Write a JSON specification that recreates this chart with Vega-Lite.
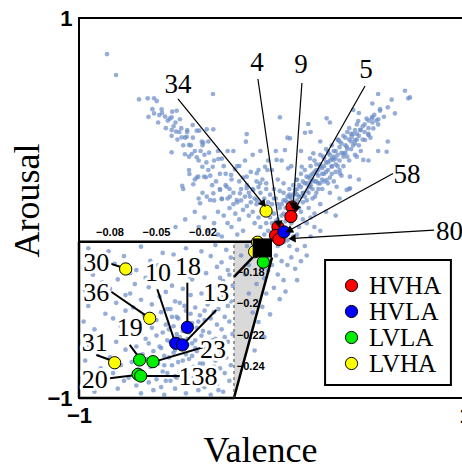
{
"$schema":"https://vega.github.io/schema/vega-lite/v6.json",
"width":386,"height":380,
"autosize":{"type":"none"},
"padding":{"left":79,"top":18,"right":0,"bottom":67},
"config":{
 "view":{"stroke":"black","strokeWidth":2},
 "axis":{"grid":false,"ticks":false,"domain":false,"labelFont":"Liberation Sans, Arial, sans-serif","labelFontWeight":"bold","labelFontSize":22,"labelColor":"black","titleFont":"Liberation Serif, Times New Roman, serif","titleFontWeight":"normal","titleFontSize":36,"titleColor":"black","labelFlush":false,"labelOverlap":false}
},
"datasets":{
 "main":[
{"v":-0.855,"a":0.81},{"v":-0.808,"a":0.7},{"v":-0.689,"a":0.572},{"v":-0.644,"a":0.577},{"v":-0.611,"a":0.577},{"v":-0.597,"a":0.563},{"v":-0.306,"a":0.6},
{"v":-0.572,"a":0.519},{"v":-0.611,"a":0.498},{"v":-0.584,"a":0.489},{"v":-0.554,"a":0.481},{"v":-0.517,"a":0.507},{"v":-0.494,"a":0.512},{"v":-0.477,"a":0.467},{"v":-0.52,"a":0.477},
{"v":-0.52,"a":0.41},{"v":-0.497,"a":0.402},{"v":-0.468,"a":0.372},{"v":-0.442,"a":0.375},{"v":-0.439,"a":0.41},{"v":-0.411,"a":0.437},{"v":-0.39,"a":0.407},{"v":-0.377,"a":0.407},{"v":-0.338,"a":0.414},{"v":-0.304,"a":0.414},
{"v":-0.52,"a":0.293},{"v":-0.451,"a":0.283},{"v":-0.416,"a":0.284},{"v":-0.39,"a":0.267},{"v":-0.43,"a":0.332},{"v":-0.364,"a":0.349},{"v":-0.356,"a":0.344},
{"v":-0.131,"a":0.389},{"v":-0.135,"a":0.349},
{"v":-0.326,"a":0.291},{"v":-0.278,"a":0.258},{"v":-0.361,"a":0.217},{"v":-0.307,"a":0.217},{"v":-0.428,"a":0.179},{"v":-0.382,"a":0.165},{"v":-0.352,"a":0.165},{"v":-0.342,"a":0.162},{"v":-0.465,"a":0.116},{"v":-0.408,"a":0.125},{"v":-0.39,"a":0.16},
{"v":-0.169,"a":0.221},{"v":-0.192,"a":0.204},{"v":-0.212,"a":0.174},{"v":-0.131,"a":0.165},{"v":-0.079,"a":0.183},{"v":-0.036,"a":0.217},{"v":-0.024,"a":0.2},{"v":-0.062,"a":0.13},
{"v":-0.338,"a":0.06},{"v":-0.304,"a":0.077},{"v":-0.269,"a":0.095},{"v":-0.235,"a":0.112},{"v":-0.218,"a":0.06},{"v":-0.183,"a":0.042},{"v":-0.166,"a":0.077},{"v":-0.131,"a":0.104},{"v":-0.114,"a":0.06},{"v":-0.097,"a":0.095},{"v":-0.079,"a":0.042},{"v":-0.26,"a":0.046},{"v":-0.321,"a":0.042},{"v":-0.373,"a":0.025},
{"v":0.689,"a":0.617},{"v":0.715,"a":0.582},{"v":0.706,"a":0.577},
{"v":0.637,"a":0.498},{"v":0.56,"a":0.512},{"v":0.551,"a":0.467},{"v":0.517,"a":0.472},{"v":0.447,"a":0.458},{"v":0.421,"a":0.516},{"v":0.283,"a":0.472},{"v":0.188,"a":0.442},{"v":0.041,"a":0.477},
{"v":0.594,"a":0.296},{"v":0.525,"a":0.419},{"v":0.499,"a":0.384},{"v":0.482,"a":0.358},{"v":0.456,"a":0.411},{"v":0.43,"a":0.358},{"v":0.413,"a":0.375},{"v":0.387,"a":0.323},{"v":0.37,"a":0.288},{"v":0.344,"a":0.358},{"v":0.318,"a":0.253},{"v":0.292,"a":0.288},{"v":0.266,"a":0.27},{"v":0.249,"a":0.218},{"v":0.214,"a":0.288},{"v":0.197,"a":0.261},{"v":0.171,"a":0.396},{"v":0.093,"a":0.366},
{"v":0.067,"a":0.305},{"v":0.084,"a":0.209},{"v":0.024,"a":0.253},{"v":0.154,"a":0.217},{"v":0.179,"a":0.165},{"v":0.128,"a":0.147},{"v":0.231,"a":0.182},{"v":0.283,"a":0.147},{"v":0.335,"a":0.112},{"v":0.387,"a":0.095},{"v":0.404,"a":0.165},{"v":0.439,"a":0.27},{"v":0.473,"a":0.253},{"v":0.352,"a":0.182},{"v":0.309,"a":0.217},{"v":0.249,"a":0.13},{"v":0.197,"a":0.112},{"v":0.223,"a":0.06},{"v":0.162,"a":0.077},{"v":0.119,"a":0.095},{"v":0.093,"a":0.06},{"v":0.404,"a":0.104},
{"v":0.05,"a":0.02},{"v":0.06,"a":0.08},{"v":0.08,"a":0.03},{"v":0.09,"a":0.1},{"v":0.1,"a":0.05},{"v":0.11,"a":0.12},{"v":0.12,"a":0.02},{"v":0.12,"a":0.08},{"v":0.13,"a":0.15},{"v":0.14,"a":0.06},{"v":0.15,"a":0.11},{"v":0.15,"a":0.18},{"v":0.16,"a":0.03},{"v":0.17,"a":0.13},{"v":0.17,"a":0.2},{"v":0.18,"a":0.09},{"v":0.19,"a":0.16},{"v":0.2,"a":0.12},{"v":0.2,"a":0.22},{"v":0.21,"a":0.05},{"v":0.21,"a":0.18},{"v":0.22,"a":0.14},{"v":0.22,"a":0.25},{"v":0.23,"a":0.2},{"v":0.24,"a":0.1},{"v":0.24,"a":0.17},{"v":0.25,"a":0.23},{"v":0.25,"a":0.28},{"v":0.26,"a":0.15},{"v":0.26,"a":0.21},{"v":0.27,"a":0.26},{"v":0.28,"a":0.19},{"v":0.28,"a":0.31},{"v":0.29,"a":0.24},{"v":0.3,"a":0.16},{"v":0.3,"a":0.28},{"v":0.31,"a":0.22},{"v":0.31,"a":0.33},{"v":0.32,"a":0.27},{"v":0.33,"a":0.19},{"v":0.33,"a":0.3},{"v":0.34,"a":0.36},{"v":0.35,"a":0.25},{"v":0.35,"a":0.32},{"v":0.36,"a":0.29},{"v":0.37,"a":0.38},{"v":0.37,"a":0.22},{"v":0.38,"a":0.33},{"v":0.39,"a":0.27},{"v":0.4,"a":0.36},{"v":0.4,"a":0.42},{"v":0.41,"a":0.31},{"v":0.42,"a":0.39},{"v":0.43,"a":0.34},{"v":0.44,"a":0.44},{"v":0.45,"a":0.38},{"v":0.46,"a":0.3},{"v":0.47,"a":0.43},{"v":0.48,"a":0.4},{"v":0.49,"a":0.47},{"v":0.5,"a":0.42},{"v":0.51,"a":0.37},{"v":0.52,"a":0.45},{"v":0.53,"a":0.49},{"v":0.55,"a":0.44},{"v":0.56,"a":0.52},{"v":0.58,"a":0.48},{"v":0.6,"a":0.53},{"v":0.62,"a":0.57},
{"v":0.07,"a":0.0},{"v":0.08,"a":0.06},{"v":0.1,"a":0.0},{"v":0.11,"a":0.07},{"v":0.13,"a":0.1},{"v":0.14,"a":0.0},{"v":0.16,"a":0.08},{"v":0.18,"a":0.04},{"v":0.19,"a":0.11},{"v":0.2,"a":0.17},{"v":0.23,"a":0.08},{"v":0.23,"a":0.14},{"v":0.26,"a":0.1},{"v":0.27,"a":0.18},{"v":0.29,"a":0.13},{"v":0.19,"a":0.0},{"v":0.25,"a":0.02},{"v":0.3,"a":0.08},{"v":0.32,"a":0.14},{"v":0.34,"a":0.22},{"v":0.36,"a":0.17},{"v":0.4,"a":0.25},{"v":0.43,"a":0.28},{"v":0.45,"a":0.33},{"v":0.29,"a":0.3},{"v":0.33,"a":0.26},{"v":0.39,"a":0.4},{"v":0.41,"a":0.35},{"v":0.44,"a":0.39},{"v":0.47,"a":0.36},{"v":0.5,"a":0.46},{"v":0.38,"a":0.29},{"v":0.35,"a":0.35},{"v":0.31,"a":0.26},{"v":0.27,"a":0.22},{"v":0.24,"a":0.2},{"v":0.21,"a":0.15},{"v":0.18,"a":0.13},{"v":0.15,"a":0.06},{"v":0.13,"a":0.04},
{"v":0.3,"a":0.45},{"v":0.2,"a":0.4},{"v":0.25,"a":0.35},{"v":0.15,"a":0.3},{"v":0.1,"a":0.22},{"v":0.05,"a":0.25},{"v":0.08,"a":0.37},{"v":0.45,"a":0.15},{"v":0.5,"a":0.25},{"v":0.55,"a":0.3},{"v":0.6,"a":0.35},{"v":0.35,"a":0.05},{"v":0.4,"a":0.1},{"v":0.28,"a":-0.02},{"v":0.33,"a":-0.04},{"v":0.22,"a":-0.03},{"v":0.45,"a":0.5},{"v":0.52,"a":0.55},{"v":0.55,"a":0.6},
{"v":0.0,"a":0.02},{"v":0.01,"a":-0.03},{"v":0.02,"a":0.05},{"v":0.03,"a":-0.06},{"v":0.04,"a":0.0},{"v":-0.01,"a":-0.05},{"v":-0.02,"a":0.03},{"v":-0.03,"a":-0.08},{"v":-0.04,"a":0.05},{"v":-0.05,"a":-0.02},{"v":-0.06,"a":0.08},{"v":-0.07,"a":-0.05},{"v":-0.08,"a":0.02},{"v":0.05,"a":-0.09},{"v":0.06,"a":-0.03},{"v":0.07,"a":-0.07},{"v":0.08,"a":-0.12},{"v":0.02,"a":-0.1},{"v":0.0,"a":-0.13},{"v":-0.02,"a":-0.12},{"v":0.04,"a":-0.15},{"v":0.1,"a":-0.08},{"v":0.12,"a":-0.04},{"v":0.14,"a":-0.1},{"v":0.16,"a":-0.06},{"v":0.11,"a":-0.15},{"v":0.09,"a":-0.2},{"v":0.13,"a":-0.22},{"v":0.06,"a":-0.18},{"v":0.03,"a":-0.2},{"v":0.01,"a":-0.17},{"v":-0.09,"a":-0.08},{"v":-0.11,"a":0.03},{"v":-0.12,"a":-0.04},{"v":-0.14,"a":0.06},{"v":-0.15,"a":-0.01},{"v":-0.1,"a":0.1},{"v":-0.13,"a":0.12},{"v":-0.16,"a":0.1},{"v":-0.18,"a":0.03},{"v":-0.2,"a":0.08},{"v":-0.17,"a":-0.06},{"v":-0.19,"a":-0.03},{"v":-0.22,"a":0.0},{"v":-0.24,"a":0.12},{"v":-0.21,"a":0.15},{"v":-0.26,"a":0.05},{"v":-0.27,"a":0.18},{"v":-0.3,"a":0.04},{"v":-0.31,"a":0.12},{"v":-0.33,"a":0.2},{"v":-0.25,"a":-0.04},{"v":-0.23,"a":-0.08},{"v":-0.28,"a":-0.02},{"v":-0.08,"a":0.14},{"v":-0.05,"a":0.15},{"v":-0.03,"a":0.1},{"v":0.01,"a":0.1},{"v":0.03,"a":0.15},{"v":0.0,"a":0.2},{"v":-0.02,"a":0.25},{"v":-0.07,"a":0.2},{"v":-0.11,"a":0.19},{"v":-0.15,"a":0.16},{"v":-0.18,"a":0.22},{"v":-0.14,"a":0.25},{"v":-0.1,"a":0.28},{"v":-0.06,"a":0.3},{"v":0.02,"a":0.3},{"v":-0.2,"a":0.3},
{"v":-0.35,"a":0.28},{"v":-0.36,"a":0.33},{"v":-0.38,"a":0.25},{"v":-0.4,"a":0.3},{"v":-0.41,"a":0.37},{"v":-0.43,"a":0.27},{"v":-0.44,"a":0.4},{"v":-0.46,"a":0.33},{"v":-0.47,"a":0.42},{"v":-0.49,"a":0.36},{"v":-0.5,"a":0.45},{"v":-0.52,"a":0.38},{"v":-0.53,"a":0.47},{"v":-0.55,"a":0.42},{"v":-0.57,"a":0.5},{"v":-0.59,"a":0.45},{"v":-0.62,"a":0.52},{"v":-0.64,"a":0.48},{"v":-0.3,"a":0.25},{"v":-0.32,"a":0.17},{"v":-0.27,"a":0.1},{"v":-0.25,"a":0.22},{"v":-0.23,"a":0.3},{"v":-0.36,"a":0.08},{"v":-0.4,"a":0.15},{"v":-0.43,"a":0.2},{"v":-0.46,"a":0.1},{"v":-0.38,"a":0.05},
{"v":0.02,"a":-0.25},{"v":0.05,"a":-0.28},{"v":0.08,"a":-0.3},{"v":0.1,"a":-0.26},{"v":0.12,"a":-0.32},{"v":0.03,"a":-0.35},{"v":0.06,"a":-0.38},{"v":0.0,"a":-0.3},{"v":-0.02,"a":-0.33},{"v":-0.04,"a":-0.37},{"v":-0.06,"a":-0.3},{"v":-0.08,"a":-0.4},{"v":-0.03,"a":-0.45},{"v":0.01,"a":-0.42},{"v":0.04,"a":-0.48},{"v":-0.05,"a":-0.52},{"v":-0.01,"a":-0.56},{"v":-0.07,"a":-0.6},{"v":-0.04,"a":-0.68},{"v":-0.09,"a":-0.75},{"v":0.07,"a":-0.44},{"v":0.13,"a":-0.38},{"v":0.15,"a":-0.28},{"v":0.17,"a":-0.2},{"v":0.2,"a":-0.15},{"v":0.22,"a":-0.1},{"v":0.25,"a":-0.12},{"v":0.18,"a":-0.25},{"v":-0.12,"a":-0.45},{"v":-0.1,"a":-0.55},{"v":-0.14,"a":-0.35},{"v":-0.16,"a":-0.25},{"v":-0.12,"a":-0.3},{"v":-0.09,"a":-0.22},{"v":-0.13,"a":-0.2},{"v":-0.18,"a":-0.14},{"v":-0.15,"a":-0.12},{"v":-0.21,"a":-0.1},{"v":-0.26,"a":-0.15},{"v":-0.3,"a":-0.08},{"v":-0.35,"a":-0.05},{"v":-0.33,"a":-0.12},{"v":-0.4,"a":-0.02},{"v":-0.38,"a":-0.1},{"v":-0.45,"a":-0.06},{"v":-0.5,"a":-0.1},{"v":-0.28,"a":-0.14},
{"v":0.06,"a":0.04},{"v":0.09,"a":0.07},{"v":0.11,"a":0.03},{"v":0.13,"a":0.07},{"v":0.14,"a":0.12},{"v":0.16,"a":0.14},{"v":0.17,"a":0.06},{"v":0.19,"a":0.08},{"v":0.2,"a":0.14},{"v":0.21,"a":0.1},{"v":0.22,"a":0.19},{"v":0.23,"a":0.23},{"v":0.24,"a":0.13},{"v":0.26,"a":0.18},{"v":0.27,"a":0.14},{"v":0.28,"a":0.24},{"v":0.29,"a":0.2},{"v":0.3,"a":0.25},{"v":0.31,"a":0.18},{"v":0.32,"a":0.3},{"v":0.33,"a":0.23},{"v":0.34,"a":0.28},{"v":0.35,"a":0.2},{"v":0.36,"a":0.34},{"v":0.37,"a":0.27},{"v":0.38,"a":0.37},{"v":0.39,"a":0.31},{"v":0.41,"a":0.39},{"v":0.42,"a":0.33},{"v":0.43,"a":0.41},{"v":0.44,"a":0.36},{"v":0.46,"a":0.41},{"v":0.48,"a":0.44},{"v":0.5,"a":0.39},{"v":0.52,"a":0.48},{"v":0.54,"a":0.46},
{"v":0.01,"a":0.05},{"v":0.03,"a":0.02},{"v":0.05,"a":-0.04},{"v":0.07,"a":0.04},{"v":0.09,"a":-0.02},{"v":0.02,"a":-0.07},{"v":-0.01,"a":0.07},{"v":-0.04,"a":-0.01},{"v":-0.06,"a":0.03},{"v":-0.09,"a":0.05},{"v":-0.12,"a":0.08},{"v":-0.07,"a":0.11},{"v":-0.03,"a":0.13},{"v":0.04,"a":0.09},{"v":0.06,"a":0.13},{"v":-0.1,"a":-0.02},{"v":-0.13,"a":0.01},{"v":-0.16,"a":0.04},{"v":-0.2,"a":0.02},{"v":-0.23,"a":0.05},{"v":-0.06,"a":-0.1},{"v":0.0,"a":-0.08},{"v":0.05,"a":-0.13},{"v":0.08,"a":-0.17},{"v":-0.04,"a":-0.14},{"v":0.1,"a":-0.12},{"v":0.13,"a":-0.14},{"v":0.15,"a":-0.02},{"v":0.18,"a":-0.08},{"v":0.2,"a":-0.05},
{"v":-0.28,"a":0.3},{"v":-0.33,"a":0.35},{"v":-0.37,"a":0.3},{"v":-0.42,"a":0.33},{"v":-0.45,"a":0.37},{"v":-0.48,"a":0.4},{"v":-0.51,"a":0.43},{"v":-0.54,"a":0.46},{"v":-0.26,"a":0.26},{"v":-0.24,"a":0.18},{"v":-0.29,"a":0.14},{"v":-0.34,"a":0.24},{"v":-0.22,"a":0.1},{"v":-0.17,"a":0.14}
 ],
 "inset":[
{"v":-0.094,"a":-0.164},{"v":-0.081,"a":-0.166},{"v":-0.06,"a":-0.163},{"v":-0.046,"a":-0.167},{"v":-0.031,"a":-0.164},{"v":-0.021,"a":-0.166},{"v":-0.012,"a":-0.162},{"v":-0.005,"a":-0.165},
{"v":-0.089,"a":-0.171},{"v":-0.071,"a":-0.169},{"v":-0.054,"a":-0.172},{"v":-0.039,"a":-0.168},{"v":-0.026,"a":-0.171},{"v":-0.015,"a":-0.169},{"v":-0.008,"a":-0.173},{"v":-0.002,"a":-0.17},
{"v":-0.097,"a":-0.176},{"v":-0.077,"a":-0.174},{"v":-0.063,"a":-0.178},{"v":-0.049,"a":-0.175},{"v":-0.034,"a":-0.177},{"v":-0.022,"a":-0.174},{"v":-0.011,"a":-0.176},{"v":-0.004,"a":-0.178},
{"v":-0.091,"a":-0.181},{"v":-0.067,"a":-0.18},{"v":-0.057,"a":-0.183},{"v":-0.042,"a":-0.179},{"v":-0.029,"a":-0.182},{"v":-0.018,"a":-0.18},{"v":-0.009,"a":-0.183},{"v":-0.003,"a":-0.181},
{"v":-0.085,"a":-0.186},{"v":-0.075,"a":-0.184},{"v":-0.064,"a":-0.187},{"v":-0.051,"a":-0.185},{"v":-0.04,"a":-0.188},{"v":-0.027,"a":-0.184},{"v":-0.016,"a":-0.187},{"v":-0.007,"a":-0.185},{"v":-0.001,"a":-0.188},
{"v":-0.096,"a":-0.191},{"v":-0.08,"a":-0.19},{"v":-0.067,"a":-0.193},{"v":-0.055,"a":-0.189},{"v":-0.044,"a":-0.192},{"v":-0.033,"a":-0.19},{"v":-0.021,"a":-0.193},{"v":-0.011,"a":-0.189},{"v":-0.004,"a":-0.192},
{"v":-0.088,"a":-0.196},{"v":-0.07,"a":-0.194},{"v":-0.06,"a":-0.197},{"v":-0.048,"a":-0.195},{"v":-0.038,"a":-0.198},{"v":-0.028,"a":-0.194},{"v":-0.016,"a":-0.197},{"v":-0.008,"a":-0.195},{"v":-0.002,"a":-0.198},
{"v":-0.094,"a":-0.201},{"v":-0.076,"a":-0.199},{"v":-0.065,"a":-0.202},{"v":-0.053,"a":-0.2},{"v":-0.043,"a":-0.203},{"v":-0.035,"a":-0.199},{"v":-0.025,"a":-0.202},{"v":-0.017,"a":-0.2},{"v":-0.01,"a":-0.203},{"v":-0.004,"a":-0.201},
{"v":-0.083,"a":-0.206},{"v":-0.07,"a":-0.204},{"v":-0.058,"a":-0.207},{"v":-0.047,"a":-0.205},{"v":-0.04,"a":-0.208},{"v":-0.031,"a":-0.204},{"v":-0.022,"a":-0.207},{"v":-0.013,"a":-0.205},{"v":-0.006,"a":-0.208},
{"v":-0.097,"a":-0.211},{"v":-0.078,"a":-0.209},{"v":-0.064,"a":-0.212},{"v":-0.05,"a":-0.21},{"v":-0.044,"a":-0.213},{"v":-0.036,"a":-0.209},{"v":-0.027,"a":-0.212},{"v":-0.019,"a":-0.21},{"v":-0.011,"a":-0.213},{"v":-0.003,"a":-0.211},
{"v":-0.09,"a":-0.216},{"v":-0.073,"a":-0.214},{"v":-0.061,"a":-0.217},{"v":-0.053,"a":-0.215},{"v":-0.046,"a":-0.218},{"v":-0.039,"a":-0.214},{"v":-0.033,"a":-0.217},{"v":-0.024,"a":-0.215},{"v":-0.016,"a":-0.218},{"v":-0.008,"a":-0.216},
{"v":-0.085,"a":-0.221},{"v":-0.068,"a":-0.219},{"v":-0.057,"a":-0.222},{"v":-0.05,"a":-0.22},{"v":-0.043,"a":-0.223},{"v":-0.037,"a":-0.219},{"v":-0.03,"a":-0.222},{"v":-0.021,"a":-0.22},{"v":-0.014,"a":-0.223},{"v":-0.006,"a":-0.221},{"v":-0.001,"a":-0.219},
{"v":-0.094,"a":-0.226},{"v":-0.076,"a":-0.224},{"v":-0.063,"a":-0.227},{"v":-0.055,"a":-0.225},{"v":-0.047,"a":-0.228},{"v":-0.041,"a":-0.224},{"v":-0.034,"a":-0.227},{"v":-0.027,"a":-0.225},{"v":-0.018,"a":-0.228},{"v":-0.01,"a":-0.226},{"v":-0.004,"a":-0.224},
{"v":-0.088,"a":-0.231},{"v":-0.07,"a":-0.229},{"v":-0.059,"a":-0.232},{"v":-0.052,"a":-0.23},{"v":-0.045,"a":-0.233},{"v":-0.038,"a":-0.229},{"v":-0.031,"a":-0.232},{"v":-0.024,"a":-0.23},{"v":-0.015,"a":-0.233},{"v":-0.008,"a":-0.231},
{"v":-0.096,"a":-0.236},{"v":-0.08,"a":-0.234},{"v":-0.066,"a":-0.237},{"v":-0.056,"a":-0.235},{"v":-0.049,"a":-0.238},{"v":-0.042,"a":-0.234},{"v":-0.036,"a":-0.237},{"v":-0.029,"a":-0.235},{"v":-0.02,"a":-0.238},{"v":-0.012,"a":-0.236},{"v":-0.005,"a":-0.234},
{"v":-0.086,"a":-0.241},{"v":-0.073,"a":-0.239},{"v":-0.062,"a":-0.242},{"v":-0.054,"a":-0.24},{"v":-0.046,"a":-0.243},{"v":-0.04,"a":-0.239},{"v":-0.033,"a":-0.242},{"v":-0.026,"a":-0.24},{"v":-0.017,"a":-0.243},{"v":-0.009,"a":-0.241},{"v":-0.002,"a":-0.239},
{"v":-0.092,"a":-0.246},{"v":-0.078,"a":-0.244},{"v":-0.068,"a":-0.247},{"v":-0.058,"a":-0.245},{"v":-0.05,"a":-0.248},{"v":-0.043,"a":-0.244},{"v":-0.037,"a":-0.247},{"v":-0.03,"a":-0.245},{"v":-0.022,"a":-0.248},{"v":-0.014,"a":-0.246},{"v":-0.006,"a":-0.244},
{"v":-0.083,"a":-0.251},{"v":-0.071,"a":-0.249},{"v":-0.063,"a":-0.252},{"v":-0.055,"a":-0.25},{"v":-0.047,"a":-0.253},{"v":-0.041,"a":-0.249},{"v":-0.034,"a":-0.252},{"v":-0.027,"a":-0.25},{"v":-0.019,"a":-0.253},{"v":-0.011,"a":-0.251},{"v":-0.003,"a":-0.249},
{"v":-0.09,"a":-0.256},{"v":-0.075,"a":-0.254},{"v":-0.06,"a":-0.257},{"v":-0.052,"a":-0.255},{"v":-0.045,"a":-0.258},{"v":-0.038,"a":-0.254},{"v":-0.031,"a":-0.257},{"v":-0.023,"a":-0.255},{"v":-0.015,"a":-0.258},{"v":-0.007,"a":-0.256},
{"v":-0.041,"a":-0.203},{"v":-0.037,"a":-0.208},{"v":-0.032,"a":-0.201},{"v":-0.028,"a":-0.206},{"v":-0.023,"a":-0.211},{"v":-0.019,"a":-0.204},{"v":-0.015,"a":-0.209},{"v":-0.042,"a":-0.216},{"v":-0.035,"a":-0.221},{"v":-0.029,"a":-0.218},{"v":-0.025,"a":-0.223},{"v":-0.02,"a":-0.217},{"v":-0.012,"a":-0.222},{"v":-0.039,"a":-0.231},{"v":-0.033,"a":-0.236},{"v":-0.027,"a":-0.233},{"v":-0.022,"a":-0.238},{"v":-0.017,"a":-0.231},{"v":-0.013,"a":-0.24},{"v":-0.044,"a":-0.249},{"v":-0.038,"a":-0.246},{"v":-0.032,"a":-0.251},{"v":-0.026,"a":-0.247},{"v":-0.021,"a":-0.252},{"v":-0.016,"a":-0.245},{"v":-0.01,"a":-0.255},{"v":-0.048,"a":-0.227},{"v":-0.045,"a":-0.239},{"v":-0.025,"a":-0.228},{"v":-0.035,"a":-0.243},{"v":-0.03,"a":-0.226}
 ],
 "mainPts":[
{"v":-0.031,"a":-0.016,"cat":"LVHA"},{"v":-0.075,"a":-0.18,"cat":"LVHA"},{"v":-0.09,"a":-0.23,"cat":"LVHA"},{"v":-0.045,"a":-0.285,"cat":"LVLA"},
{"v":0.104,"a":0.005,"cat":"HVHA"},{"v":0.098,"a":-0.045,"cat":"HVHA"},{"v":0.031,"a":-0.1,"cat":"HVHA"},{"v":0.018,"a":-0.145,"cat":"HVHA"},{"v":0.036,"a":-0.165,"cat":"HVHA"},{"v":0.062,"a":-0.126,"cat":"HVLA"}
 ],
 "mainLab":[
{"id":"34","tv":-0.487,"ta":0.647,"lv":-0.487,"la":0.574,"v":-0.048,"a":0.025},
{"id":"4","tv":-0.078,"ta":0.763,"lv":-0.073,"la":0.679,"v":0.035,"a":-0.08},
{"id":"9","tv":0.15,"ta":0.753,"lv":0.155,"la":0.658,"v":0.11,"a":0.016},
{"id":"5","tv":0.487,"ta":0.726,"lv":0.482,"la":0.642,"v":0.125,"a":0.003},
{"id":"58","tv":0.699,"ta":0.174,"lv":0.627,"la":0.182,"v":0.093,"a":-0.116},
{"id":"80","tv":0.92,"ta":-0.126,"lv":0.84,"la":-0.116,"v":0.11,"a":-0.16}
 ],
 "insetPts":[
{"v":-0.0699,"a":-0.1773,"cat":"LVHA"},{"v":-0.0544,"a":-0.2089,"cat":"LVHA"},{"v":-0.0301,"a":-0.2147,"cat":"HVLA"},{"v":-0.0376,"a":-0.2249,"cat":"HVLA"},{"v":-0.0333,"a":-0.226,"cat":"HVLA"},{"v":-0.0609,"a":-0.2356,"cat":"LVLA"},{"v":-0.0523,"a":-0.2367,"cat":"LVLA"},{"v":-0.077,"a":-0.2374,"cat":"LVHA"},{"v":-0.0619,"a":-0.2448,"cat":"LVLA"},{"v":-0.0602,"a":-0.2459,"cat":"LVLA"}
 ],
 "insetLab":[
{"id":"30","tv":-0.0888,"ta":-0.1733,"lv":-0.0802,"la":-0.1737,"v":-0.0716,"a":-0.1765},
{"id":"36","tv":-0.0888,"ta":-0.1929,"lv":-0.0792,"la":-0.1919,"v":-0.0566,"a":-0.2074},
{"id":"10","tv":-0.049,"ta":-0.1801,"lv":-0.0495,"la":-0.1903,"v":-0.0383,"a":-0.2235},
{"id":"18","tv":-0.0297,"ta":-0.1758,"lv":-0.0301,"la":-0.1861,"v":-0.0301,"a":-0.2121},
{"id":"13","tv":-0.0114,"ta":-0.1929,"lv":-0.0114,"la":-0.2036,"v":-0.0318,"a":-0.2245},
{"id":"19","tv":-0.0673,"ta":-0.2153,"lv":-0.0673,"la":-0.226,"v":-0.0613,"a":-0.2339},
{"id":"31","tv":-0.0899,"ta":-0.2249,"lv":-0.0888,"la":-0.2324,"v":-0.0785,"a":-0.2361},
{"id":"23","tv":-0.0135,"ta":-0.2292,"lv":-0.02,"la":-0.2275,"v":-0.0512,"a":-0.2367},
{"id":"20","tv":-0.0899,"ta":-0.2485,"lv":-0.0802,"la":-0.2474,"v":-0.063,"a":-0.2453},
{"id":"138","tv":-0.0232,"ta":-0.2463,"lv":-0.035,"la":-0.2459,"v":-0.0587,"a":-0.2459}
 ]
},
"resolve":{"scale":{"x":"independent","y":"independent"}},
"layer":[
{"layer":[
 {"mark":{"type":"rule","color":"#8c8c8c","strokeDash":[4,3],"strokeWidth":1},
  "encoding":{"x":{"datum":0,"type":"quantitative","scale":{"domain":[-1,1],"nice":false,"zero":false}}}},
 {"mark":{"type":"rule","color":"#8c8c8c","strokeDash":[4,3],"strokeWidth":1},
  "encoding":{"y":{"datum":0,"type":"quantitative","scale":{"domain":[-1,1],"nice":false,"zero":false}}}},
 {"data":{"values":[{"v":-0.197,"a":-1,"a2":-0.178},{"v":0,"a":-0.26,"a2":-0.16}]},
  "mark":{"type":"area","color":"#d9d9d9","opacity":1},
  "encoding":{"x":{"field":"v","type":"quantitative","scale":{"domain":[-1,1],"nice":false,"zero":false}},"y":{"field":"a","type":"quantitative","scale":{"domain":[-1,1],"nice":false,"zero":false}},"y2":{"field":"a2"}}},
 {"data":{"name":"main"},
  "mark":{"type":"circle","size":22,"color":"#6a8bc6","opacity":0.7},
  "encoding":{
   "x":{"field":"v","type":"quantitative","scale":{"domain":[-1,1],"nice":false,"zero":false},"axis":{"values":[-1,0,1],"format":"d","title":"Valence","labelPadding":7,"titleX":181,"titleY":63,"titleBaseline":"alphabetic"}},
   "y":{"field":"a","type":"quantitative","scale":{"domain":[-1,1],"nice":false,"zero":false},"axis":{"values":[-1,0,1],"format":"d","title":"Arousal","labelPadding":7,"titleX":-41,"titleY":182,"titleBaseline":"alphabetic"}}}},
 {"data":{"values":[{"v":-1,"v2":-0.197,"a":-1,"a2":-0.178}]},
  "mark":{"type":"rect","fill":"white"},
  "encoding":{"x":{"field":"v","type":"quantitative","scale":{"domain":[-1,1],"nice":false,"zero":false}},"x2":{"field":"v2"},"y":{"field":"a","type":"quantitative","scale":{"domain":[-1,1],"nice":false,"zero":false}},"y2":{"field":"a2"}}},
 {"data":{"values":[{"v":0.275,"v2":0.927,"a":-0.932,"a2":-0.274}]},
  "mark":{"type":"rect","fill":"white","stroke":"black","strokeWidth":2},
  "encoding":{"x":{"field":"v","type":"quantitative","scale":{"domain":[-1,1],"nice":false,"zero":false}},"x2":{"field":"v2"},"y":{"field":"a","type":"quantitative","scale":{"domain":[-1,1],"nice":false,"zero":false}},"y2":{"field":"a2"}}},
 {"data":{"values":[{"v":-1,"a":-0.178,"v2":-0.1,"a2":-0.178},{"v":-1,"a":-1,"v2":-1,"a2":-0.178},{"v":-1,"a":-1,"v2":-0.197,"a2":-1},{"v":-0.1,"a":-0.26,"v2":-0.197,"a2":-0.363},{"v":0,"a":-0.26,"v2":-0.197,"a2":-1}]},
  "mark":{"type":"rule","color":"black","strokeWidth":2.5},
  "encoding":{"x":{"field":"v","type":"quantitative","scale":{"domain":[-1,1],"nice":false,"zero":false}},"x2":{"field":"v2"},"y":{"field":"a","type":"quantitative","scale":{"domain":[-1,1],"nice":false,"zero":false}},"y2":{"field":"a2"}}},
 {"data":{"values":[{"v":-0.197,"a":-1,"v2":-0.197,"a2":-0.178}]},
  "mark":{"type":"rule","color":"#444","strokeWidth":1,"strokeDash":[3,3]},
  "encoding":{"x":{"field":"v","type":"quantitative","scale":{"domain":[-1,1],"nice":false,"zero":false}},"x2":{"field":"v2"},"y":{"field":"a","type":"quantitative","scale":{"domain":[-1,1],"nice":false,"zero":false}},"y2":{"field":"a2"}}},
 {"data":{"name":"mainPts"},
  "mark":{"type":"circle","size":150,"opacity":1,"stroke":"black","strokeWidth":1},
  "encoding":{"x":{"field":"v","type":"quantitative","scale":{"domain":[-1,1],"nice":false,"zero":false}},"y":{"field":"a","type":"quantitative","scale":{"domain":[-1,1],"nice":false,"zero":false}},
   "color":{"field":"cat","type":"nominal","scale":{"domain":["HVHA","HVLA","LVLA","LVHA"],"range":["#ff0000","#0000ff","#00ee00","#ffff00"]},
    "legend":{"orient":"none","legendX":260,"legendY":255,"title":null,"padding":0,"labelFont":"Liberation Serif, Times New Roman, serif","labelFontSize":25,"labelColor":"black","labelOffset":5,"symbolType":"circle","symbolSize":150,"symbolStrokeColor":"black","symbolStrokeWidth":1,"symbolOpacity":1,"rowPadding":0}}}},
 {"data":{"values":[{"v":-0.1,"v2":0,"a":-0.26,"a2":-0.16}]},
  "mark":{"type":"rect","fill":"black"},
  "encoding":{"x":{"field":"v","type":"quantitative","scale":{"domain":[-1,1],"nice":false,"zero":false}},"x2":{"field":"v2"},"y":{"field":"a","type":"quantitative","scale":{"domain":[-1,1],"nice":false,"zero":false}},"y2":{"field":"a2"}}},
 {"data":{"name":"mainLab"},
  "mark":{"type":"rule","color":"black","strokeWidth":1.2},
  "encoding":{"x":{"field":"lv","type":"quantitative","scale":{"domain":[-1,1],"nice":false,"zero":false}},"x2":{"field":"v"},"y":{"field":"la","type":"quantitative","scale":{"domain":[-1,1],"nice":false,"zero":false}},"y2":{"field":"a"}}},
 {"data":{"name":"mainLab"},
  "transform":[{"calculate":"atan2(datum.v - datum.lv, datum.a - datum.la) * 180 / PI","as":"ang"}],
  "mark":{"type":"point","shape":"triangle","filled":true,"color":"black","opacity":1,"size":70},
  "encoding":{"x":{"field":"v","type":"quantitative","scale":{"domain":[-1,1],"nice":false,"zero":false}},"y":{"field":"a","type":"quantitative","scale":{"domain":[-1,1],"nice":false,"zero":false}},"angle":{"field":"ang","type":"quantitative","scale":null}}},
 {"data":{"name":"mainLab"},
  "mark":{"type":"text","font":"Liberation Serif, Times New Roman, serif","fontSize":27,"color":"black","baseline":"middle","align":"center"},
  "encoding":{"x":{"field":"tv","type":"quantitative","scale":{"domain":[-1,1],"nice":false,"zero":false}},"y":{"field":"ta","type":"quantitative","scale":{"domain":[-1,1],"nice":false,"zero":false}},"text":{"field":"id"}}}
]},
{"layer":[
 {"data":{"name":"inset"},
  "mark":{"type":"circle","size":22,"color":"#6a8bc6","opacity":0.7},
  "encoding":{"x":{"field":"v","type":"quantitative","scale":{"domain":[-0.1,0],"range":[0,155],"nice":false,"zero":false},"axis":null},"y":{"field":"a","type":"quantitative","scale":{"domain":[-0.26,-0.16],"range":[380,224],"nice":false,"zero":false},"axis":null}}},
 {"data":{"name":"insetLab"},
  "mark":{"type":"rule","color":"black","strokeWidth":2},
  "encoding":{"x":{"field":"lv","type":"quantitative","scale":{"domain":[-0.1,0],"range":[0,155],"nice":false,"zero":false},"axis":null},"x2":{"field":"v"},"y":{"field":"la","type":"quantitative","scale":{"domain":[-0.26,-0.16],"range":[380,224],"nice":false,"zero":false},"axis":null},"y2":{"field":"a"}}},
 {"data":{"name":"insetPts"},
  "mark":{"type":"circle","size":150,"opacity":1,"stroke":"black","strokeWidth":1},
  "encoding":{"x":{"field":"v","type":"quantitative","scale":{"domain":[-0.1,0],"range":[0,155],"nice":false,"zero":false},"axis":null},"y":{"field":"a","type":"quantitative","scale":{"domain":[-0.26,-0.16],"range":[380,224],"nice":false,"zero":false},"axis":null},
   "color":{"field":"cat","type":"nominal","scale":{"domain":["HVHA","HVLA","LVLA","LVHA"],"range":["#ff0000","#0000ff","#00ee00","#ffff00"]}}}},
 {"data":{"name":"insetLab"},
  "mark":{"type":"text","font":"Liberation Serif, Times New Roman, serif","fontSize":26,"color":"black","stroke":"white","strokeWidth":6,"strokeJoin":"round","baseline":"middle","align":"center"},
  "encoding":{"x":{"field":"tv","type":"quantitative","scale":{"domain":[-0.1,0],"range":[0,155],"nice":false,"zero":false},"axis":null},"y":{"field":"ta","type":"quantitative","scale":{"domain":[-0.26,-0.16],"range":[380,224],"nice":false,"zero":false},"axis":null},"text":{"field":"id"}}},
 {"data":{"name":"insetLab"},
  "mark":{"type":"text","font":"Liberation Serif, Times New Roman, serif","fontSize":26,"color":"black","baseline":"middle","align":"center"},
  "encoding":{"x":{"field":"tv","type":"quantitative","scale":{"domain":[-0.1,0],"range":[0,155],"nice":false,"zero":false},"axis":null},"y":{"field":"ta","type":"quantitative","scale":{"domain":[-0.26,-0.16],"range":[380,224],"nice":false,"zero":false},"axis":null},"text":{"field":"id"}}},
 {"data":{"values":[{"t":-0.08},{"t":-0.05},{"t":-0.02}]},
  "mark":{"type":"text","font":"Liberation Sans, Arial, sans-serif","fontWeight":"bold","fontSize":11,"color":"black","baseline":"middle","align":"center"},
  "encoding":{"x":{"field":"t","type":"quantitative","scale":{"domain":[-0.1,0],"range":[0,155],"nice":false,"zero":false},"axis":null},"y":{"datum":-0.1545,"type":"quantitative","scale":{"domain":[-0.26,-0.16],"range":[380,224],"nice":false,"zero":false},"axis":null},"text":{"field":"t","type":"quantitative","format":".2~f"}}},
 {"data":{"values":[{"t":-0.18},{"t":-0.2},{"t":-0.22},{"t":-0.24}]},
  "mark":{"type":"text","font":"Liberation Sans, Arial, sans-serif","fontWeight":"bold","fontSize":11,"color":"black","baseline":"middle","align":"left"},
  "encoding":{"x":{"datum":0.0018,"type":"quantitative","scale":{"domain":[-0.1,0],"range":[0,155],"nice":false,"zero":false},"axis":null},"y":{"field":"t","type":"quantitative","scale":{"domain":[-0.26,-0.16],"range":[380,224],"nice":false,"zero":false},"axis":null},"text":{"field":"t","type":"quantitative","format":".2~f"}}}
]}
]
}
